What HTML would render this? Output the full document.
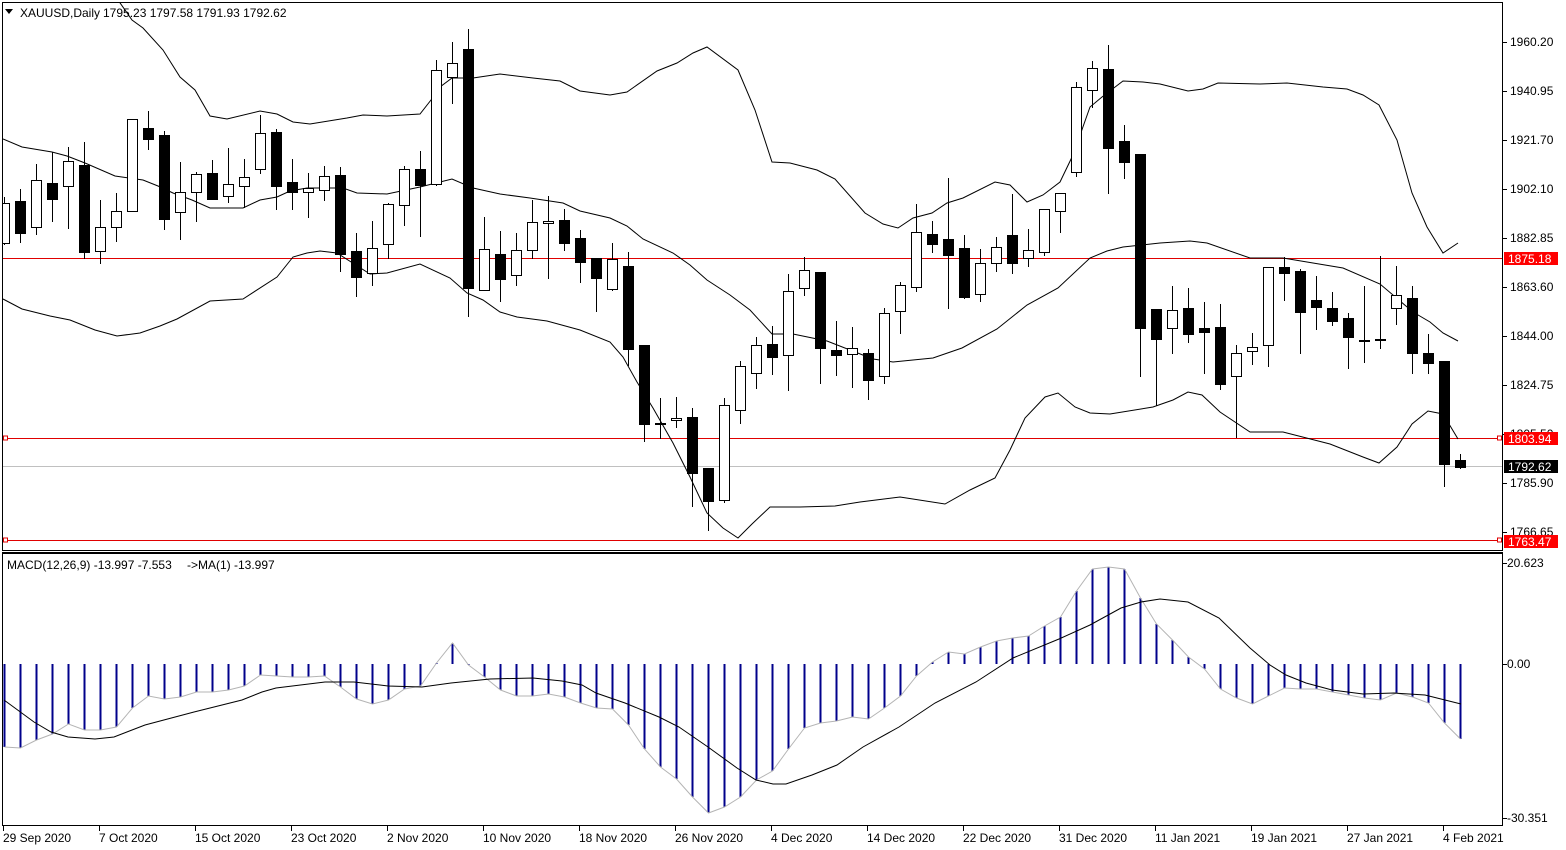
<!DOCTYPE html>
<html><head><meta charset="utf-8"><style>
html,body{margin:0;padding:0;background:#fff;}
svg{display:block;font-family:"Liberation Sans",sans-serif;}
</style></head><body>
<svg id="c" width="1566" height="850" viewBox="0 0 1566 850" xmlns="http://www.w3.org/2000/svg">
<defs>
<clipPath id="mp"><rect x="3" y="3" width="1499" height="547"/></clipPath>
<clipPath id="mc"><rect x="3" y="554" width="1499" height="272"/></clipPath>
</defs>
<rect x="0" y="0" width="1566" height="850" fill="#fff"/>
<g id="main" clip-path="url(#mp)"></g>
<g id="macd" clip-path="url(#mc)"></g>
<rect x="2.5" y="2.5" width="1500" height="548" fill="none" stroke="#000" stroke-width="1"/>
<line x1="2" y1="552.5" x2="1503" y2="552.5" stroke="#000"/>
<rect x="2.5" y="553.5" width="1500" height="272" fill="none" stroke="#000" stroke-width="1"/>
<g id="ax" font-size="12" fill="#000"></g>
<g font-size="12" fill="#000">
<path d="M5,9 L13,9 L9,14 Z" fill="#000"/>
<text x="20" y="17">XAUUSD,Daily</text>
<text x="103" y="17">1795.23 1797.58 1791.93 1792.62</text>
<text x="7" y="569">MACD(12,26,9) -13.997 -7.553</text>
<text x="187" y="569">-&gt;MA(1) -13.997</text>
</g>
</svg>
<script>
var NS="http://www.w3.org/2000/svg";
function el(p,t,a,txt){var e=document.createElementNS(NS,t);for(var k in a)e.setAttribute(k,a[k]);if(txt!==undefined)e.textContent=txt;p.appendChild(e);return e;}
var main=document.getElementById('main'),macd=document.getElementById('macd'),ax=document.getElementById('ax');
el(main,'line',{x1:3,y1:258.5,x2:1502,y2:258.5,stroke:'#e00000'});
el(main,'line',{x1:3,y1:438.5,x2:1502,y2:438.5,stroke:'#e00000'});
el(main,'line',{x1:3,y1:466.5,x2:1502,y2:466.5,stroke:'#c0c0c0'});
el(main,'line',{x1:3,y1:540.5,x2:1502,y2:540.5,stroke:'#e00000'});
[[438],[540]].forEach(function(v){el(main,'rect',{x:3.5,y:v[0]-2,width:4,height:4,fill:'#fff',stroke:'#e00000'});el(main,'rect',{x:1497.5,y:v[0]-2,width:4,height:4,fill:'#fff',stroke:'#e00000'});});
function pl(p,pts,col,w){el(p,'polyline',{points:pts.map(function(q){return q.join(',')}).join(' '),fill:'none',stroke:col,'stroke-width':w||1});}
var up=[[118,0],[132,20],[143,28],[163,50],[180,77],[195,90],[210,116],[227,119],[260,111],[277,114],[293,122],[310,124],[347,118],[363,115],[387,116],[420,114],[431,100],[440,87],[452,78],[473,78],[500,74],[533,78],[560,81],[580,91],[610,95],[627,92],[657,71],[677,63],[693,53],[707,47],[738,70],[755,110],[772,162],[790,163],[817,170],[835,179],[865,213],[883,224],[898,228],[913,218],[932,213],[947,203],[963,198],[995,182],[1010,185],[1027,202],[1043,195],[1060,182],[1073,155],[1090,107],[1102,97],[1123,81],[1143,82],[1160,84],[1188,91],[1203,89],[1218,83],[1260,84],[1287,83],[1323,87],[1347,89],[1363,95],[1379,105],[1397,140],[1412,193],[1427,227],[1443,253],[1458,243]];
var mid=[[3,139],[22,147],[52,152],[67,156],[85,163],[115,176],[143,180],[158,186],[173,193],[192,200],[210,208],[243,208],[260,200],[277,197],[290,191],[307,188],[343,188],[357,193],[387,194],[420,187],[452,179],[473,188],[500,194],[530,198],[563,203],[580,211],[610,218],[627,226],[643,239],[673,253],[690,265],[707,280],[730,295],[750,310],[772,334],[793,334],[827,341],[873,359],[893,362],[933,358],[962,348],[997,329],[1027,305],[1058,288],[1090,258],[1107,251],[1123,247],[1160,243],[1190,241],[1207,243],[1250,258],[1283,258],[1343,268],[1380,284],[1413,312],[1430,322],[1443,333],[1458,341]];
var lo=[[3,299],[22,309],[50,316],[70,320],[95,330],[117,336],[140,333],[160,326],[177,319],[210,301],[243,299],[277,277],[293,257],[307,253],[320,251],[337,253],[370,274],[387,273],[420,264],[450,278],[467,293],[483,300],[500,312],[517,317],[547,321],[580,330],[610,342],[623,357],[637,382],[653,408],[673,443],[690,477],[707,513],[723,528],[738,538],[752,524],[770,507],[800,507],[835,506],[860,502],[900,497],[945,504],[970,490],[995,478],[1010,450],[1025,418],[1045,397],[1058,393],[1075,407],[1090,413],[1110,414],[1153,407],[1173,400],[1188,392],[1202,395],[1220,412],[1250,432],[1283,432],[1330,444],[1363,457],[1379,463],[1397,447],[1412,424],[1428,411],[1443,414],[1458,439]];
pl(main,up,'#000');pl(main,mid,'#000');pl(main,lo,'#000');
var C=[[197,203,243,245,1],[189,201,233,243,0],[164,180,227,235,1],[152,183,199,222,0],[147,161,186,229,1],[142,165,252,259,0],[200,227,251,264,1],[193,211,227,242,1],[119,119,211,212,1],[111,128,139,150,0],[131,135,219,230,0],[162,192,212,240,1],[172,174,192,222,1],[160,173,199,200,0],[148,184,196,203,1],[159,177,186,208,1],[115,133,169,174,1],[129,132,186,210,0],[159,182,192,210,0],[173,188,192,218,1],[166,176,190,201,1],[167,175,254,272,0],[233,251,277,297,0],[221,248,273,286,1],[203,204,244,259,1],[166,169,205,226,1],[151,169,185,237,0],[60,70,184,186,1],[42,63,77,104,1],[29,49,288,317,0],[217,249,290,291,1],[231,254,279,302,0],[233,250,275,286,1],[200,222,250,259,1],[196,221,223,279,1],[209,220,243,251,0],[230,238,262,283,0],[258,258,278,312,0],[243,259,289,291,1],[252,266,349,366,0],[345,345,424,442,0],[398,423,424,439,0],[397,418,420,428,1],[408,417,473,507,0],[468,468,501,531,0],[398,405,500,503,1],[361,366,410,424,1],[337,345,373,389,1],[326,344,357,375,0],[274,291,355,391,1],[257,270,288,296,1],[272,272,348,384,0],[321,350,355,376,0],[327,348,354,388,1],[349,353,380,400,0],[308,313,376,384,1],[282,285,311,334,1],[204,232,287,292,1],[221,234,244,253,0],[178,239,255,309,0],[235,248,297,299,0],[249,263,294,302,1],[237,247,263,272,1],[194,235,263,274,0],[229,250,258,267,1],[209,209,252,256,1],[193,193,211,233,1],[82,87,172,177,1],[61,68,90,108,1],[45,69,148,194,0],[125,141,162,179,0],[154,154,328,377,0],[309,309,339,406,0],[286,310,328,354,1],[288,308,334,343,0],[302,328,332,374,0],[304,327,384,390,0],[345,353,376,438,1],[333,347,351,365,1],[267,267,345,367,1],[257,267,273,301,0],[269,271,312,354,0],[276,300,307,330,0],[292,308,321,326,0],[313,318,337,369,0],[286,340,341,363,0],[256,339,340,349,1],[266,295,308,325,1],[286,298,353,374,0],[334,353,363,374,0],[361,361,464,487,0],[454,460,467,469,0]];
C.forEach(function(c,i){var x=Math.round(3.5+16*i)+0.5;
el(main,'line',{x1:x,y1:c[0],x2:x,y2:c[3],stroke:'#000','stroke-width':1});
var h=Math.max(c[2]-c[1],1);
el(main,'rect',{x:x-5,y:c[1]+0.5,width:10,height:h,fill:c[4]?'#fff':'#000',stroke:'#000','stroke-width':1});});
var H=[747,748,740,734,724,730,730,727,708,696,699,697,692,692,690,686,675,676,677,677,676,687,699,704,700,689,686,663,643,665,677,690,696,696,694,697,703,708,709,725,749,767,779,797,813,807,797,780,771,749,728,723,721,717,719,708,696,676,662,652,654,647,641,638,636,626,617,591,569,567,569,598,624,640,657,669,689,698,704,696,688,689,689,692,695,698,700,693,697,703,723,739];
var gp=[];
H.forEach(function(v,i){var x=Math.round(3.5+16*i)+0.5;gp.push([x,v]);
el(macd,'line',{x1:x,y1:664,x2:x,y2:v,stroke:'#00008b','stroke-width':2});});
pl(macd,gp,'#b4b4b4');
var sig=[[4,700],[34,722],[51,732],[68,737],[95,739],[114,737],[145,725],[194,712],[242,700],[262,692],[276,688],[325,682],[354,682],[388,686],[422,687],[451,683],[490,679],[533,678],[562,681],[582,685],[596,693],[625,703],[659,717],[679,727],[708,747],[737,768],[756,780],[773,784],[786,784],[812,775],[837,765],[863,747],[899,727],[935,703],[976,682],[1013,658],[1059,639],[1090,625],[1121,608],[1141,602],[1160,599],[1188,602],[1219,618],[1250,648],[1270,665],[1286,675],[1306,683],[1332,690],[1363,694],[1394,693],[1425,695],[1461,704]];
pl(macd,sig,'#000');
[["1960.20",42],["1940.95",91],["1921.70",140],["1902.10",189],["1882.85",238],["1863.60",287],["1844.00",336],["1824.75",385],["1805.50",434],["1785.90",483],["1766.65",532]].forEach(function(t){
el(ax,'line',{x1:1503,y1:t[1]+0.5,x2:1507,y2:t[1]+0.5,stroke:'#000'});
el(ax,'text',{x:1510,y:t[1]+4},t[0]);});
[["1875.18",258,'#ff0000'],["1803.94",438,'#ff0000'],["1792.62",466,'#000'],["1763.47",541,'#ff0000']].forEach(function(t){
el(ax,'rect',{x:1504,y:t[1]-6,width:54,height:13,fill:t[2]});
el(ax,'text',{x:1508,y:t[1]+5,fill:'#fff'},t[0]);});
[["20.623",563],["0.00",664],["-30.351",818]].forEach(function(t){
el(ax,'line',{x1:1503,y1:t[1]+0.5,x2:1507,y2:t[1]+0.5,stroke:'#000'});
el(ax,'text',{x:1507,y:t[1]+4},t[0]);});
var D=["29 Sep 2020","7 Oct 2020","15 Oct 2020","23 Oct 2020","2 Nov 2020","10 Nov 2020","18 Nov 2020","26 Nov 2020","4 Dec 2020","14 Dec 2020","22 Dec 2020","31 Dec 2020","11 Jan 2021","19 Jan 2021","27 Jan 2021","4 Feb 2021"];
D.forEach(function(d,k){var x=3+96*k;
el(ax,'line',{x1:x+0.5,y1:826,x2:x+0.5,y2:831,stroke:'#000'});
el(ax,'text',{x:x,y:842},d);});
</script>
</body></html>
